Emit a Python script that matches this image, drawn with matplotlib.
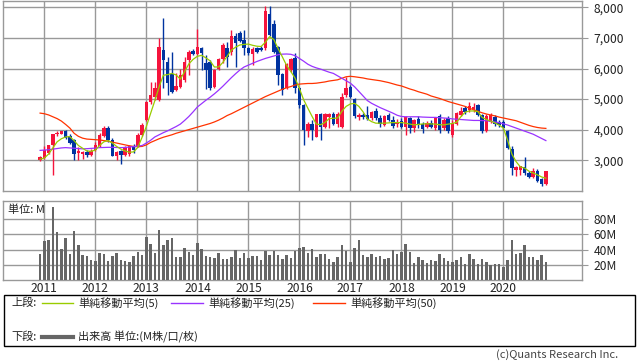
import matplotlib
matplotlib.use("Agg")
import matplotlib.pyplot as plt
from matplotlib.patches import Rectangle
from matplotlib.lines import Line2D
import numpy as np

plt.rcParams['font.family'] = ['Noto Sans CJK JP', 'DejaVu Sans']

# ---------------- data (monthly, Dec 2010 .. Nov 2020) ----------------
opens = [2990, 3060, 3230, 3500, 3840, 3870, 3940, 3800, 3660, 3230, 3210, 3280,
         3180, 3340, 3470, 3790, 4060, 3660, 3130, 3300, 3170, 3200, 3450, 3450,
         3830, 4320, 4890, 5080, 4980, 6600, 6220, 5820, 5300, 5400, 5620, 6280,
         6580, 6480, 6680, 6170, 6220, 5400, 6000, 6300, 6660, 6550, 7060, 7170,
         6930, 6660, 6480, 6680, 6680, 6660, 7780, 7470, 6710, 5820, 5350, 5950,
         6330, 5350, 4810, 3940, 4190, 3770, 4500, 4100, 4400, 4500, 4180, 4100,
         5130, 5390, 4990, 4400, 4480, 4480, 4370, 4610, 4370, 4150, 4480, 4320,
         4180, 4290, 4100, 4370, 4050, 4340, 4190, 4070, 4230, 4050, 4450, 4050,
         4370, 3830, 4180, 4480, 4700, 4640, 4660, 4810, 4480, 3970, 4260, 4400,
         4260, 4260, 3960, 3360, 2690, 2690, 2790, 2580, 2450, 2660, 2380, 2220]
closes = [3090, 3320, 3480, 3850, 3900, 3960, 3720, 3560, 3210, 3310, 3280, 3170,
          3300, 3500, 3830, 4040, 3650, 3140, 3260, 3170, 3420, 3470, 3320, 3830,
          4150, 4910, 5130, 5370, 6710, 6280, 5520, 5240, 5430, 5790, 6220, 6550,
          6480, 6710, 6500, 5950, 5350, 5950, 6300, 6770, 6390, 7060, 6820, 6910,
          6680, 6500, 6640, 6550, 6610, 7890, 7100, 6550, 5790, 5300, 6150, 6300,
          5350, 4800, 3990, 4190, 3990, 4500, 4070, 4500, 4510, 4180, 4500, 5060,
          5350, 5080, 4430, 4480, 4410, 4340, 4590, 4370, 4190, 4430, 4320, 4120,
          4260, 4100, 4400, 4050, 4320, 4150, 4010, 4230, 4100, 4370, 3990, 4320,
          3970, 4230, 4530, 4610, 4590, 4770, 4730, 4480, 3970, 4430, 4480, 4190,
          4150, 4050, 3390, 2740, 2790, 2810, 2580, 2440, 2650, 2330, 2230, 2630]
highs = [3130, 3450, 3500, 3870, 3950, 3970, 3990, 3850, 3700, 3420, 3300, 3340,
         3360, 3580, 3900, 4120, 4120, 3720, 3300, 3330, 3470, 3500, 3520, 3880,
         4200, 4950, 5560, 5570, 6990, 7640, 6380, 6550, 5860, 6000, 6390, 6600,
         6630, 7280, 6720, 6440, 6280, 6000, 6350, 6840, 6880, 7260, 7150, 7220,
         7260, 6700, 6710, 6720, 6750, 8040, 8040, 7590, 6750, 5850, 6180, 6340,
         6500, 5400, 4850, 4260, 4320, 4520, 4550, 4530, 4540, 4560, 4560, 5210,
         5710, 5460, 5030, 4540, 4540, 4770, 4600, 4700, 4480, 4480, 4540, 4430,
         4340, 4370, 4450, 4400, 4360, 4430, 4260, 4270, 4300, 4400, 4500, 4380,
         4450, 4320, 4590, 4750, 4770, 4920, 4860, 4840, 4500, 4500, 4550, 4480,
         4320, 4300, 3990, 3470, 2800, 2820, 3090, 2630, 2740, 2700, 2430, 2650]
lows = [2980, 3040, 3200, 2520, 3800, 3850, 3700, 3530, 3010, 3010, 3030, 3100,
        3140, 3300, 3440, 3760, 3600, 3120, 3010, 2870, 3150, 3150, 3250, 3420,
        3800, 4280, 4850, 4970, 4950, 5350, 5130, 5200, 5280, 5350, 5570, 5790,
        6440, 6450, 5950, 5320, 5300, 5360, 5960, 6170, 6060, 6440, 6060, 6880,
        6440, 6440, 6110, 6500, 6580, 6600, 7050, 6500, 5460, 5140, 5320, 5900,
        5190, 4700, 3480, 3770, 3660, 3750, 3660, 4050, 4050, 4140, 4070, 4050,
        5080, 5030, 4370, 4320, 4350, 4320, 4330, 4320, 4080, 4130, 4270, 4050,
        4100, 4050, 3830, 3880, 3930, 4050, 3880, 4040, 4060, 4000, 3900, 4000,
        3900, 3770, 4150, 4460, 4510, 4590, 4590, 4450, 3880, 3930, 4230, 4120,
        4100, 3990, 3360, 2500, 2490, 2520, 2520, 2420, 2410, 2300, 2170, 2200]
ma5 = [3030, 3070, 3200, 3400, 3600, 3700, 3760, 3770, 3640, 3480, 3390, 3300,
       3290, 3330, 3480, 3600, 3640, 3560, 3450, 3360, 3300, 3260, 3270, 3420,
       3750, 4100, 4530, 4950, 5400, 5780, 5800, 5840, 5790, 5650, 5900, 6150,
       6300, 6400, 6430, 6350, 6250, 6050, 6050, 6200, 6400, 6600, 6700, 6770,
       6790, 6800, 6760, 6730, 6720, 6860, 7040, 6950, 6650, 6380, 6100, 5900,
       5680, 5350, 4980, 4700, 4430, 4180, 4160, 4230, 4360, 4370, 4380, 4600,
       4760, 4840, 4860, 4760, 4580, 4350, 4260, 4210, 4210, 4210, 4220, 4230,
       4230, 4230, 4210, 4180, 4155, 4170, 4185, 4190, 4186, 4180, 4160, 4155,
       4180, 4200, 4240, 4420, 4570, 4610, 4610, 4590, 4400, 4330, 4280, 4220,
       4150, 4050, 3650, 3200, 2950, 2780, 2740, 2640, 2580, 2520, 2450, 2410]
ma25 = [3320, 3330, 3340, 3360, 3380, 3400, 3410, 3400, 3390, 3380, 3370, 3375,
        3385, 3395, 3410, 3415, 3420, 3420, 3415, 3410, 3415, 3430, 3445, 3460,
        3480, 3560, 3650, 3760, 3830, 3900, 3960, 4030, 4100, 4180, 4300, 4430,
        4580, 4740, 4850, 4960, 5060, 5170, 5290, 5420, 5560, 5700, 5830, 5950,
        6050, 6110, 6170, 6230, 6280, 6330, 6370, 6410, 6450, 6470, 6475, 6465,
        6420, 6330, 6240, 6140, 6070, 6020, 5980, 5930, 5880, 5840, 5760, 5680,
        5600, 5520, 5400, 5250, 5100, 4950, 4860, 4790, 4720, 4660, 4600, 4540,
        4470, 4430, 4420, 4420, 4420, 4420, 4410, 4405, 4400, 4400, 4390, 4380,
        4370, 4350, 4340, 4330, 4320, 4310, 4300, 4300, 4295, 4290, 4270, 4250,
        4230, 4190, 4150, 4100, 4050, 4000, 3950, 3900, 3850, 3780, 3710, 3640]
ma50 = [4540, 4520, 4480, 4420, 4360, 4280, 4170, 4050, 3880, 3780, 3720, 3690,
        3680, 3670, 3660, 3640, 3620, 3590, 3560, 3530, 3500, 3470, 3450, 3440,
        3450, 3500, 3580, 3640, 3700, 3750, 3790, 3830, 3880, 3920, 3960, 4000,
        4040, 4080, 4120, 4160, 4200, 4250, 4310, 4380, 4460, 4520, 4590, 4660,
        4730, 4800, 4870, 4940, 5010, 5080, 5140, 5200, 5260, 5320, 5370, 5410,
        5460, 5490, 5500, 5510, 5510, 5520, 5540, 5560, 5590, 5610, 5630, 5680,
        5730, 5745, 5730, 5710, 5690, 5660, 5640, 5620, 5600, 5570, 5540, 5500,
        5460, 5430, 5380, 5330, 5290, 5240, 5200, 5160, 5100, 5060, 5020, 4970,
        4920, 4880, 4840, 4800, 4760, 4700, 4650, 4600, 4550, 4510, 4480, 4450,
        4410, 4380, 4350, 4320, 4290, 4240, 4190, 4140, 4100, 4070, 4050, 4040]
volume_m = [34, 52, 53, 96, 63, 41, 55, 34, 64, 46, 33, 32,
            26.5, 25, 36, 34, 25, 32, 36, 26.5, 25, 24, 32, 37,
            33, 56.5, 47, 36, 66, 46, 53, 55, 30, 30, 42, 37,
            33, 49, 41, 32, 30, 29, 36, 28, 28, 30, 40, 29,
            36, 29, 32, 32, 26.5, 38, 33, 38, 33, 28, 33, 29,
            38, 42, 43.5, 36, 41, 30, 34, 34, 28, 24, 30, 46,
            38, 24, 42, 53, 33, 30, 34, 30, 32, 28, 29, 40,
            34, 37, 47, 37, 22.6, 30, 26.5, 22.6, 26.5, 25, 34, 29,
            25, 24, 26.5, 30, 21, 34, 28, 21, 28, 24, 20, 21,
            21, 17.4, 26.5, 53, 34, 36, 46, 30, 30, 26.5, 33, 24]
years = ['2011', '2012', '2013', '2014', '2015', '2016', '2017', '2018', '2019', '2020']
price_ticks = [3000, 4000, 5000, 6000, 7000, 8000]
vol_ticks = [20, 40, 60, 80]

# ---------------- styling ----------------
W, H = 638, 362
UP = '#F5143C'
DOWN = '#0033A0'
GRID = '#999999'
C5 = '#99CC00'
C25 = '#9933FF'
C50 = '#FF3300'
VOLC = '#666666'
TXT = '#222222'
FS_NUM = 8.7
FS_TXT = 8

def fx(px):
    return px / W

def fy(py):
    return 1 - py / H

fig = plt.figure(figsize=(W / 100, H / 100), dpi=100)

x = np.arange(len(opens))
year_pos = [1 + 12 * k for k in range(len(years))]
xlim = (-8.73, 127.5)

# price axes
ax = fig.add_axes([fx(3), fy(190.7), fx(582) - fx(3), fy(1) - fy(190.7)])
ax.set_xlim(*xlim)
ax.set_ylim(2000, 8210)
for s in ax.spines.values():
    s.set_color(GRID)
    s.set_linewidth(1.0)
ax.set_yticks(price_ticks)
ax.set_yticklabels([f'{v:,}' for v in price_ticks])
ax.yaxis.tick_right()
ax.tick_params(axis='y', length=4, color=GRID, pad=4.5, labelsize=FS_NUM, labelcolor=TXT)
ax.set_xticks(year_pos)
ax.tick_params(axis='x', length=0, labelbottom=False)
ax.grid(True, color=GRID, linewidth=1.0)
ax.set_axisbelow(True)

o = np.array(opens); c = np.array(closes); h = np.array(highs); l = np.array(lows)
up = c >= o
colors = np.where(up, UP, DOWN)
ax.vlines(x, l, h, colors=colors, linewidth=1.0, zorder=3)
body_lo = np.minimum(o, c)
body_h = np.maximum(np.abs(c - o), 25)
ax.bar(x, body_h, bottom=body_lo, width=0.8, color=colors, linewidth=0, zorder=4)

ax.plot(x, ma50, color=C50, linewidth=0.9, zorder=5)
ax.plot(x, ma25, color=C25, linewidth=0.9, zorder=5)
ax.plot(x, ma5, color=C5, linewidth=0.9, zorder=6)

# volume axes
axv = fig.add_axes([fx(3), fy(280.3), fx(582) - fx(3), fy(200.7) - fy(280.3)])
axv.set_xlim(*xlim)
axv.set_ylim(0, 104)
for s in axv.spines.values():
    s.set_color(GRID)
    s.set_linewidth(1.0)
axv.set_yticks(vol_ticks)
axv.set_yticklabels([f'{v}M' for v in vol_ticks])
axv.yaxis.tick_right()
axv.tick_params(axis='y', length=4, color=GRID, pad=4.5, labelsize=FS_NUM, labelcolor=TXT)
axv.set_xticks(year_pos)
axv.set_xticklabels(years)
axv.tick_params(axis='x', length=0, pad=1.5, labelsize=FS_NUM, labelcolor=TXT)
axv.grid(True, color=GRID, linewidth=1.0)
axv.set_axisbelow(True)
axv.bar(x, volume_m, width=0.6, color=VOLC, linewidth=0, zorder=3)
fig.text(fx(8), fy(210), '単位: M', fontsize=FS_TXT, color=TXT, va='center', ha='left')

# legend box
fig.add_artist(Rectangle((fx(3.5), fy(346)), fx(635) - fx(3.5), fy(295) - fy(346),
                         transform=fig.transFigure, fill=False, edgecolor='black', linewidth=1.0))
ly1 = fy(303)
ly2 = fy(337)
fig.text(fx(11), ly1, '上段:', fontsize=FS_TXT, color=TXT, va='center', ha='left')
for (x0, x1, col, lab) in [(42, 73, C5, '単純移動平均(5)'),
                           (171, 203, C25, '単純移動平均(25)'),
                           (313, 345, C50, '単純移動平均(50)')]:
    fig.add_artist(Line2D([fx(x0), fx(x1)], [ly1, ly1], transform=fig.transFigure,
                          color=col, linewidth=1.0))
    fig.text(fx(x1 + 5), ly1, lab, fontsize=FS_TXT, color=TXT, va='center', ha='left')
fig.text(fx(11), ly2, '下段:', fontsize=FS_TXT, color=TXT, va='center', ha='left')
fig.add_artist(Line2D([fx(42), fx(73)], [ly2, ly2], transform=fig.transFigure,
                      color=VOLC, linewidth=3.0))
fig.text(fx(78), ly2, '出来高 単位:(M株/口/枚)', fontsize=FS_TXT, color=TXT, va='center', ha='left')

fig.text(fx(618), fy(354.5), '(c)Quants Research Inc.', fontsize=FS_TXT, color='#444444',
         va='center', ha='right')

fig.savefig('out.png', dpi=100)
